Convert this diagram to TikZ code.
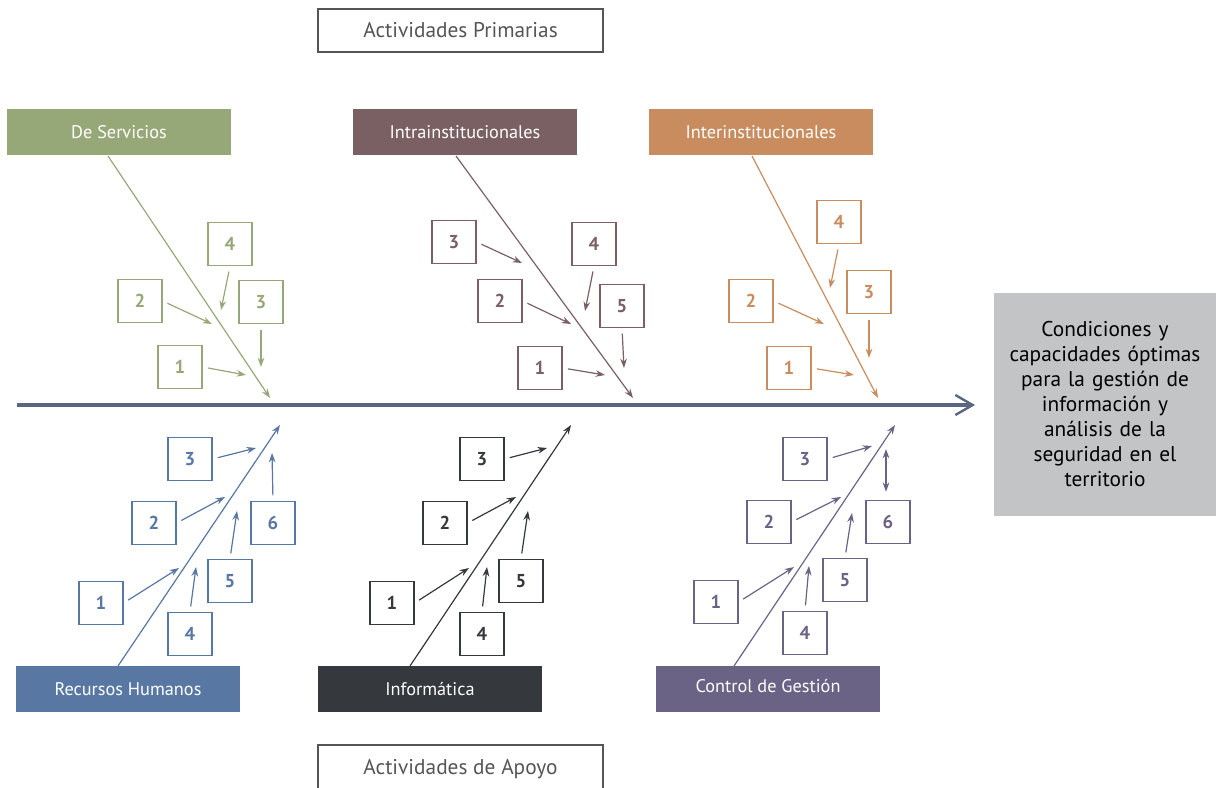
\documentclass[tikz,border=0pt]{standalone}
\usepackage{fontspec}
\setmainfont{PT Sans}
\usetikzlibrary{arrows.meta}
\definecolor{cs}{HTML}{97A878}
\definecolor{ci}{HTML}{7A5F63}
\definecolor{ce}{HTML}{C98C5F}
\definecolor{cr}{HTML}{5877A2}
\definecolor{cf}{HTML}{35383C}
\definecolor{cc}{HTML}{6B6386}
\definecolor{cgoal}{HTML}{C3C4C6}
\definecolor{cspine}{HTML}{5B6780}
\definecolor{ctitle}{HTML}{555555}
\begin{document}
\begin{tikzpicture}[x=0.75pt,y=-0.75pt,
  cat/.style={fill=#1, draw=none, minimum width=168pt, minimum height=34.5pt, inner sep=0pt,
    text=white, font=\fontsize{13.7}{15}\selectfont},
  nb/.style={draw=#1, line width=0.9pt, minimum width=33pt, minimum height=32.5pt, inner sep=0pt,
    text=#1, font=\bfseries\fontsize{14}{16}\selectfont},
  branch/.style={draw=#1, line width=0.9pt, -{Stealth[length=7pt,width=5pt]}},
  sarr/.style={draw=#1, line width=0.9pt, -{Stealth[length=7pt,width=5pt]}, shorten <=4pt},
  titlebox/.style={draw=ctitle, line width=0.8pt, minimum width=213.75pt, minimum height=32.25pt,
    inner sep=0pt, text=ctitle, font=\fontsize{16}{18}\selectfont}
]
\useasboundingbox (0,0) rectangle (1216,788);

% titles
\node[titlebox] (prim) at (460.5,30.5) {Actividades Primarias};
\begin{scope}
  \clip (0,0) rectangle (1216,788);
  \node[titlebox, minimum height=48pt, text depth=0pt] (apoyo) at (460.5,777) {};
\end{scope}
\node[text=ctitle, font=\fontsize{16}{18}\selectfont] (apoyotxt) at (460.5,769) {Actividades de Apoyo};

% goal
\node[fill=cgoal, minimum width=166.5pt, minimum height=167.25pt, inner sep=0pt] (goal) at (1105,404.5) {};
\node[text width=160pt, align=center, text=black, font=\fontsize{16}{18.7}\selectfont] (goaltxt) at (1105,404)
  {Condiciones y\\capacidades óptimas\\para la gestión de\\información y\\análisis de la\\seguridad en el\\territorio};

% spine
\coordinate (spineA) at (17,405);
\draw[cspine, line width=2.3pt, -{Straight Barb[length=13pt,width=15pt,line width=1.8pt]}, shorten >=14pt] (spineA) -- (goal.west |- spineA);

% ---------- De Servicios
\node[cat=cs] (serv) at (119,132) {De Servicios};
\coordinate (servA) at (108,156); \coordinate (servB) at (270,398);
\draw[branch=cs] (servA) -- (servB);
\node[nb=cs] (s4) at (230,244) {4}; \coordinate (ts4) at (221,310);
\node[nb=cs] (s2) at (140,301) {2}; \coordinate (ts2) at (212,324);
\node[nb=cs] (s3) at (261,302) {3}; \coordinate (ts3) at (261,367);
\node[nb=cs] (s1) at (180,367) {1}; \coordinate (ts1) at (246,375);
\draw[sarr=cs] (s4.south) -- (ts4);
\draw[sarr=cs] (s2.east) -- (ts2);
\draw[sarr=cs] (s3.south) -- (ts3);
\draw[sarr=cs] (s1.east) -- (ts1);

% ---------- Intrainstitucionales
\node[cat=ci] (intra) at (465,132) {Intrainstitucionales};
\coordinate (intraA) at (456,156); \coordinate (intraB) at (633,398);
\draw[branch=ci] (intraA) -- (intraB);
\node[nb=ci] (i3) at (454,242) {3}; \coordinate (ti3) at (522,263);
\node[nb=ci] (i4) at (594,244) {4}; \coordinate (ti4) at (585,311);
\node[nb=ci] (i2) at (500,301) {2}; \coordinate (ti2) at (571,324);
\node[nb=ci] (i5) at (622,306) {5}; \coordinate (ti5) at (624,368);
\node[nb=ci] (i1) at (540,368) {1}; \coordinate (ti1) at (605,375);
\draw[sarr=ci] (i3.east) -- (ti3);
\draw[sarr=ci] (i4.south) -- (ti4);
\draw[sarr=ci] (i2.east) -- (ti2);
\draw[sarr=ci] (i5.south) -- (ti5);
\draw[sarr=ci] (i1.east) -- (ti1);

% ---------- Interinstitucionales
\node[cat=ce] (inter) at (761,132) {Interinstitucionales};
\coordinate (interA) at (752,156); \coordinate (interB) at (878,398);
\draw[branch=ce] (interA) -- (interB);
\node[nb=ce] (e4) at (839,222) {4}; \coordinate (te4) at (830,288);
\node[nb=ce] (e2) at (751,301) {2}; \coordinate (te2) at (824,324);
\node[nb=ce] (e3) at (869,292) {3}; \coordinate (te3) at (869,358);
\node[nb=ce] (e1) at (789,368) {1}; \coordinate (te1) at (854,375);
\draw[sarr=ce] (e4.south) -- (te4);
\draw[sarr=ce] (e2.east) -- (te2);
\draw[sarr=ce] (e3.south) -- (te3);
\draw[sarr=ce] (e1.east) -- (te1);

% ---------- Recursos Humanos
\node[cat=cr] (rh) at (128,689) {Recursos Humanos};
\coordinate (rhA) at (118,666); \coordinate (rhB) at (280,425);
\draw[branch=cr] (rhA) -- (rhB);
\node[nb=cr] (r3) at (190,459) {3}; \coordinate (tr3) at (256,448);
\node[nb=cr] (r2) at (154,523) {2}; \coordinate (tr2) at (225,497);
\node[nb=cr] (r6) at (273,523) {6}; \coordinate (tr6) at (272,453);
\node[nb=cr] (r5) at (230,581) {5}; \coordinate (tr5) at (237,511);
\node[nb=cr] (r1) at (101,603) {1}; \coordinate (tr1) at (179,568);
\node[nb=cr] (r4) at (190,634) {4}; \coordinate (tr4) at (196,567);
\draw[sarr=cr] (r3.east) -- (tr3);
\draw[sarr=cr] (r2.east) -- (tr2);
\draw[sarr=cr] (r6.north) -- (tr6);
\draw[sarr=cr] (r5.north) -- (tr5);
\draw[sarr=cr] (r1.east) -- (tr1);
\draw[sarr=cr] (r4.north) -- (tr4);

% ---------- Informática
\node[cat=cf] (info) at (430,689) {Informática};
\coordinate (infoA) at (410,666); \coordinate (infoB) at (571,425);
\draw[branch=cf] (infoA) -- (infoB);
\node[nb=cf] (f3) at (482,459) {3}; \coordinate (tf3) at (547,448);
\node[nb=cf] (f2) at (445,523) {2}; \coordinate (tf2) at (516,497);
\node[nb=cf] (f5) at (521,581) {5}; \coordinate (tf5) at (528,511);
\node[nb=cf] (f1) at (392,603) {1}; \coordinate (tf1) at (469,568);
\node[nb=cf] (f4) at (482,634) {4}; \coordinate (tf4) at (487,567);
\draw[sarr=cf] (f3.east) -- (tf3);
\draw[sarr=cf] (f2.east) -- (tf2);
\draw[sarr=cf] (f5.north) -- (tf5);
\draw[sarr=cf] (f1.east) -- (tf1);
\draw[sarr=cf] (f4.north) -- (tf4);

% ---------- Control de Gestión
\node[cat=cc] (ctrl) at (768,689) {};
\node[text=white, font=\fontsize{13.7}{15}\selectfont] (ctrltxt) at (768,686) {Control de Gestión};
\coordinate (ctrlA) at (734,666); \coordinate (ctrlB) at (895,425);
\draw[branch=cc] (ctrlA) -- (ctrlB);
\node[nb=cc] (c3) at (805,459) {3}; \coordinate (tc3) at (872,446);
\node[nb=cc] (c2) at (769,522) {2}; \coordinate (tc2) at (841,497);
\node[nb=cc] (c6) at (888,522) {6}; \coordinate (tc6) at (886,449);
\node[nb=cc] (c5) at (845,580) {5}; \coordinate (tc5) at (852,513);
\node[nb=cc] (c1) at (716,602) {1}; \coordinate (tc1) at (794,567);
\node[nb=cc] (c4) at (805,633) {4}; \coordinate (tc4) at (809,566);
\draw[sarr=cc] (c3.east) -- (tc3);
\draw[sarr=cc] (c2.east) -- (tc2);
\draw[draw=cc, line width=0.9pt, {Stealth[length=7pt,width=5pt]}-{Stealth[length=7pt,width=5pt]}, shorten <=6pt] (c6.north -| tc6) -- (tc6);
\draw[sarr=cc] (c5.north) -- (tc5);
\draw[sarr=cc] (c1.east) -- (tc1);
\draw[sarr=cc] (c4.north) -- (tc4);
\end{tikzpicture}
\end{document}
